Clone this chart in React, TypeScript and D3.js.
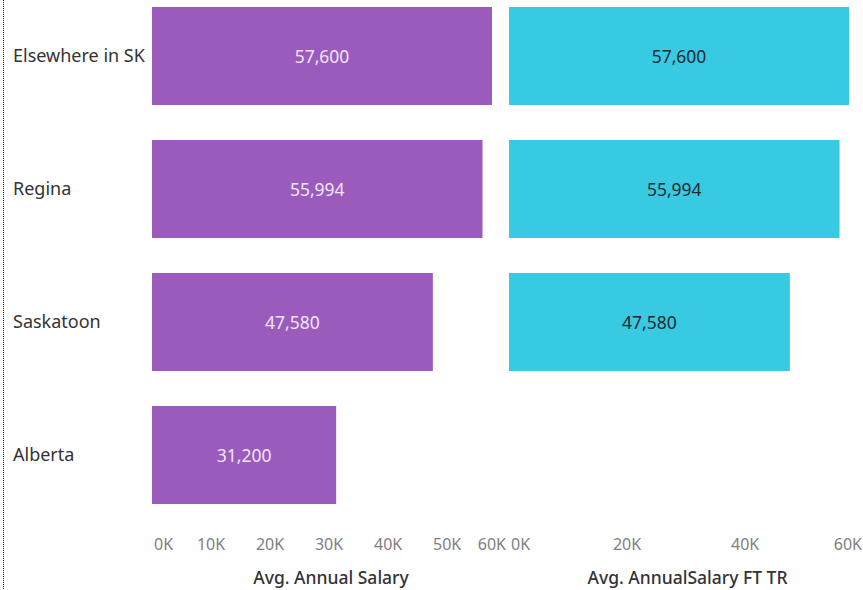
import React from 'react';
import * as d3 from 'd3';

const categories = ['Elsewhere in SK', 'Regina', 'Saskatoon', 'Alberta'];
const annualSalary = [57600, 55994, 47580, 31200];
const annualSalaryFtTr: (number | null)[] = [57600, 55994, 47580, null];
const leftTicks = [0, 10000, 20000, 30000, 40000, 50000, 60000];
const rightTicks = [0, 20000, 40000, 60000];

const W = 863;
const H = 590;
const FONT = '"Noto Sans", Lato, sans-serif';

const fmt = d3.format(',');
const tickFmt = (v: number) => `${v / 1000}K`;

const y = d3.scaleBand<string>()
    .domain(categories)
    .range([7, 504])
    .paddingInner(0.263)
    .paddingOuter(0);

interface PaneProps {
    values: (number | null)[];
    x0: number;
    paneEnd: number;
    ticks: number[];
    color: string;
    labelColor: string;
    title: string;
}

const Pane: React.FC<PaneProps> = ({ values, x0, paneEnd, ticks, color, labelColor, title }) => {
    const x = d3.scaleLinear().domain([0, 57600]).range([x0, x0 + 340]);
    return (
        <g>
            {values.map((v, i) => v == null ? null : (
                <g key={categories[i]}>
                    <rect
                        x={x(0)}
                        y={y(categories[i])!}
                        width={x(v) - x(0)}
                        height={y.bandwidth()}
                        fill={color}
                    />
                    <text
                        x={(x(0) + x(v)) / 2}
                        y={y(categories[i])! + y.bandwidth() / 2 + 1}
                        dy="0.35em"
                        textAnchor="middle"
                        fontSize={17.5}
                        fill={labelColor}
                    >{fmt(v)}</text>
                </g>
            ))}
            {ticks.map((t, i) => {
                let anchor = 'middle';
                let tx = x(t);
                if (i === 0) { anchor = 'start'; tx = x0 + 2; }
                if (i === ticks.length - 1) { anchor = 'end'; tx = paneEnd; }
                return (
                    <text key={t} x={tx} y={550} textAnchor={anchor} fontSize={16} fill="#808080">
                        {tickFmt(t)}
                    </text>
                );
            })}
            <text
                x={(x0 + paneEnd) / 2 + 2}
                y={584}
                textAnchor="middle"
                fontSize={17.5}
                fill="#333"
                fontWeight={500}
            >{title}</text>
        </g>
    );
};

export default function App() {
    return (
        <svg width={W} height={H} style={{ position: 'absolute', left: 0, top: 0, fontFamily: FONT }}>
            <rect width={W} height={H} fill="#fff" />
            <line x1={3.5} x2={3.5} y1={0} y2={H} stroke="#222" strokeWidth={1} strokeDasharray="1,1" />
            {categories.map(c => (
                <text key={c} x={13} y={y(c)! + y.bandwidth() / 2} dy="0.35em" fontSize={18} fill="#333">
                    {c}
                </text>
            ))}
            <Pane
                values={annualSalary}
                x0={152}
                paneEnd={506}
                ticks={leftTicks}
                color="#9a5bbd"
                labelColor="#f0e6f6"
                title="Avg. Annual Salary"
            />
            <Pane
                values={annualSalaryFtTr}
                x0={509}
                paneEnd={862}
                ticks={rightTicks}
                color="#37cae2"
                labelColor="#1d2a30"
                title="Avg. AnnualSalary FT TR"
            />
        </svg>
    );
}
